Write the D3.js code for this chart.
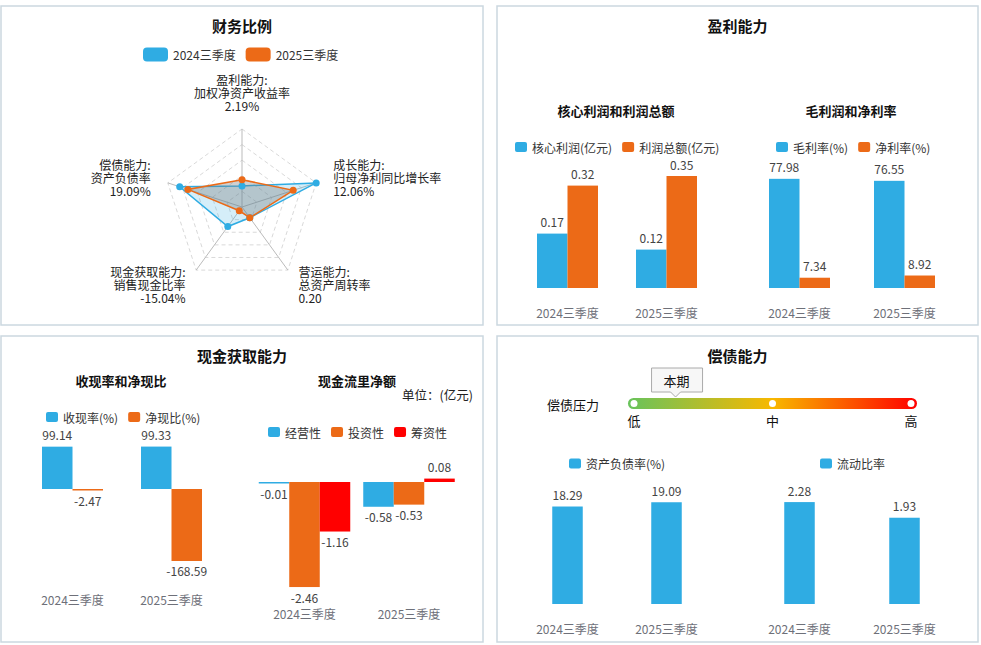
<!DOCTYPE html>
<html lang="zh">
<head>
<meta charset="UTF-8">
<title>财务分析</title>
<script src="https://d3js.org/d3.v7.min.js"></script>
<style>
  body { margin: 0; background: #fff; }
  svg { font-family: "Noto Sans CJK SC", "Microsoft YaHei", sans-serif; }
  .panel { fill: #fff; stroke: #cbd8e0; stroke-width: 1.5; }
  .title { font-size: 15px; font-weight: bold; fill: #111; }
  .sub { font-size: 13px; font-weight: bold; fill: #111; }
  .legend text { font-size: 12px; fill: #333; }
  .val { font-size: 12px; fill: #444; }
  .cat { font-size: 12px; fill: #6e7079; }
  .rlabel { font-size: 12px; fill: #222; }
</style>
</head>
<body>
<svg id="chart" width="981" height="645"></svg>
<script>
// ---- 数据 ----
var quarters = ["2024三季度", "2025三季度"];

// 财务比例 雷达（得分，0-100）
var radarNames   = ["盈利能力:", "成长能力:", "营运能力:", "现金获取能力:", "偿债能力:"];
var radarMetrics = ["加权净资产收益率", "归母净利同比增长率", "总资产周转率", "销售现金比率", "资产负债率"];
var radarValues  = ["2.19%", "12.06%", "0.20", "-15.04%", "19.09%"];
var radar2024 = [27, 100, 17, 31, 84];
var radar2025 = [35, 69, 17, 6, 73];

// 盈利能力
var profitSeries = ["核心利润(亿元)", "利润总额(亿元)"];
var coreProfit   = [0.17, 0.12];
var totalProfit  = [0.32, 0.35];
var marginSeries = ["毛利率(%)", "净利率(%)"];
var grossMargin  = [77.98, 76.55];
var netMargin    = [7.34, 8.92];

// 现金获取能力
var cashSeries    = ["收现率(%)", "净现比(%)"];
var cashRate      = [99.14, 99.33];
var netCashRatio  = [-2.47, -168.59];
var flowSeries    = ["经营性", "投资性", "筹资性"];
var flowOperating = [-0.01, -0.58];
var flowInvesting = [-2.46, -0.53];
var flowFinancing = [-1.16, 0.08];

// 偿债能力
var gaugeLevels  = ["低", "中", "高"];
var gaugeCurrent = 0.15;
var debtRatio    = [18.29, 19.09];
var currentRatio = [2.28, 1.93];

var BLUE = "#2FACE3", ORANGE = "#EC6A17", RED = "#FF0000";

var svg = d3.select("#chart");

// 面板
var panels = [
  { x: 1, y: 6, w: 482, h: 319, t: "财务比例" },
  { x: 497, y: 6, w: 481, h: 319, t: "盈利能力" },
  { x: 1, y: 336, w: 482, h: 306, t: "现金获取能力" },
  { x: 497, y: 336, w: 481, h: 306, t: "偿债能力" }
];
panels.forEach(function(p) {
  svg.append("rect").attr("class", "panel")
     .attr("x", p.x).attr("y", p.y).attr("width", p.w).attr("height", p.h);
  svg.append("text").attr("class", "title")
     .attr("x", p.x + p.w / 2).attr("y", p.y + 19)
     .attr("text-anchor", "middle").attr("dominant-baseline", "central")
     .text(p.t);
});

function subTitle(x, y, t, anchor) {
  svg.append("text").attr("class", "sub")
     .attr("x", x).attr("y", y)
     .attr("text-anchor", anchor || "middle").attr("dominant-baseline", "central")
     .text(t);
}

// 图例：按顺序排列
function legend(x, y, names, colors, opt) {
  opt = opt || {};
  var w = opt.w || 12, h = opt.h || 10, r = opt.r || 2, gap = opt.gap || 10;
  var g = svg.append("g").attr("class", "legend");
  var cx = x;
  names.forEach(function(n, i) {
    g.append("rect").attr("x", cx).attr("y", y - h / 2)
     .attr("width", w).attr("height", h).attr("rx", r).attr("fill", colors[i]);
    var t = g.append("text").attr("x", cx + w + 5).attr("y", y)
     .attr("dominant-baseline", "central").text(n);
    cx = cx + w + 5 + t.node().getComputedTextLength() + gap;
  });
}

// 分组柱状图
function groupedBars(opt) {
  var step = opt.centers[1] - opt.centers[0];
  var x0 = d3.scaleBand().domain(quarters)
             .range([opt.centers[0] - step / 2, opt.centers[1] + step / 2]);
  var n = opt.series.length, bw = 30.5;
  var x1 = d3.scaleBand().domain(d3.range(n)).range([-n * bw / 2, n * bw / 2]);
  var y = opt.y;
  var g = svg.append("g");
  quarters.forEach(function(q, qi) {
    var c = x0(q) + x0.bandwidth() / 2;
    opt.series.forEach(function(s, si) {
      var v = s[qi];
      var y0 = y(0), y1 = y(v);
      var top = Math.min(y0, y1), hgt = Math.max(1.5, Math.abs(y1 - y0));
      g.append("rect").attr("x", c + x1(si)).attr("y", top)
       .attr("width", x1.bandwidth()).attr("height", hgt)
       .attr("fill", opt.colors[si]);
      g.append("text").attr("class", "val")
       .attr("x", c + x1(si) + x1.bandwidth() / 2)
       .attr("y", v >= 0 ? y1 - 12 : y0 + hgt + 10)
       .attr("text-anchor", "middle").attr("dominant-baseline", "central")
       .text(v.toFixed(2));
    });
    g.append("text").attr("class", "cat")
     .attr("x", c).attr("y", opt.catY)
     .attr("text-anchor", "middle").attr("dominant-baseline", "central")
     .text(q);
  });
}

// ---- 财务比例 雷达 ----
legend(143, 54.5, quarters, [BLUE, ORANGE], { w: 25, h: 14, r: 4, gap: 10 });

var rc = { x: 242, y: 207 }, R = 78;
var rScale = d3.scaleLinear().domain([0, 100]).range([0, R]);
var angle = function(i) { return -Math.PI / 2 + i * 2 * Math.PI / radarNames.length; };
var pt = function(i, v) {
  return [rc.x + rScale(v) * Math.cos(angle(i)), rc.y + rScale(v) * Math.sin(angle(i))];
};
var rg = svg.append("g");
d3.range(1, 6).forEach(function(k) {
  rg.append("polygon")
    .attr("points", radarNames.map(function(d, i) { return pt(i, k * 20).join(","); }).join(" "))
    .attr("fill", "none").attr("stroke", "#d9d9d9").attr("stroke-dasharray", "4,3");
});
radarNames.forEach(function(d, i) {
  var p = pt(i, 100);
  rg.append("line").attr("x1", rc.x).attr("y1", rc.y).attr("x2", p[0]).attr("y2", p[1])
    .attr("stroke", "#bbb");
});
[[radar2024, BLUE, "rgba(47,172,227,0.2)"], [radar2025, ORANGE, "rgba(120,120,120,0.35)"]].forEach(function(s) {
  rg.append("polygon")
    .attr("points", s[0].map(function(v, i) { return pt(i, v).join(","); }).join(" "))
    .attr("fill", s[2]).attr("stroke", s[1]).attr("stroke-width", 1.5);
});
[[radar2024, BLUE], [radar2025, ORANGE]].forEach(function(s) {
  s[0].forEach(function(v, i) {
    var p = pt(i, v);
    rg.append("circle").attr("cx", p[0]).attr("cy", p[1]).attr("r", 3.5).attr("fill", s[1]);
  });
});
var lh = 13;
radarNames.forEach(function(d, i) {
  var a = angle(i), lr = R + 18;
  var lx = rc.x + lr * Math.cos(a), ly = rc.y + lr * Math.sin(a);
  var c = Math.cos(a), anchor = Math.abs(c) < 0.1 ? "middle" : (c > 0 ? "start" : "end");
  var lines = [d, radarMetrics[i], radarValues[i]];
  var firstY = Math.sin(a) < -0.9 ? ly - 6 - 2 * lh : ly - lh;
  lines.forEach(function(t, j) {
    rg.append("text").attr("class", "rlabel")
      .attr("x", lx).attr("y", firstY + j * lh)
      .attr("text-anchor", anchor).attr("dominant-baseline", "central").text(t);
  });
});

// ---- 盈利能力 ----
subTitle(616, 110, "核心利润和利润总额");
subTitle(851, 110, "毛利润和净利率");
legend(515, 147, profitSeries, [BLUE, ORANGE]);
legend(776, 147, marginSeries, [BLUE, ORANGE]);
groupedBars({
  series: [coreProfit, totalProfit], colors: [BLUE, ORANGE],
  centers: [567.5, 666.5], catY: 312,
  y: d3.scaleLinear().domain([0, 0.4]).range([288, 160])
});
groupedBars({
  series: [grossMargin, netMargin], colors: [BLUE, ORANGE],
  centers: [799.5, 904.5], catY: 312,
  y: d3.scaleLinear().domain([0, 100]).range([288, 148])
});

// ---- 现金获取能力 ----
subTitle(121, 380, "收现率和净现比");
subTitle(357, 380, "现金流里净额");
svg.append("text").attr("class", "rlabel").attr("x", 473).attr("y", 394)
   .attr("text-anchor", "end").attr("dominant-baseline", "central")
   .style("font-size", "12.5px").text("单位：(亿元)");
legend(46, 417, cashSeries, [BLUE, ORANGE]);
legend(268, 432, flowSeries, [BLUE, ORANGE, RED]);
groupedBars({
  series: [cashRate, netCashRatio], colors: [BLUE, ORANGE],
  centers: [72.5, 171.5], catY: 599,
  y: d3.scaleLinear().domain([-200, 100]).range([489 + 200 * 0.427, 489 - 100 * 0.427])
});
groupedBars({
  series: [flowOperating, flowInvesting, flowFinancing], colors: [BLUE, ORANGE, RED],
  centers: [304.5, 409], catY: 613,
  y: d3.scaleLinear().domain([-3, 1]).range([482 + 3 * 42.7, 482 - 42.7])
});

// ---- 偿债能力 ----
svg.append("text").attr("x", 547).attr("y", 404).attr("dominant-baseline", "central")
   .style("font-size", "13px").attr("fill", "#111").text("偿债压力");
var gx = d3.scaleLinear().domain([0, 1]).range([634, 911]);
var gp = d3.scalePoint().domain(gaugeLevels).range([634, 911]);
var grad = svg.append("defs").append("linearGradient").attr("id", "gauge");
[["0%", "#68C35C"], ["50%", "#F8B800"], ["100%", "#FF0000"]].forEach(function(s) {
  grad.append("stop").attr("offset", s[0]).attr("stop-color", s[1]);
});
svg.append("rect").attr("x", gx(0) - 6).attr("y", 398).attr("width", gx(1) - gx(0) + 12)
   .attr("height", 11).attr("rx", 5.5).attr("fill", "url(#gauge)");
gaugeLevels.forEach(function(l) {
  svg.append("circle").attr("cx", gp(l)).attr("cy", 403.5).attr("r", 3.5).attr("fill", "#fff");
  svg.append("text").attr("x", gp(l)).attr("y", 420)
     .attr("text-anchor", "middle").attr("dominant-baseline", "central")
     .style("font-size", "13px").attr("fill", "#111").text(l);
});
var tx = gx(gaugeCurrent);
svg.append("path")
   .attr("d", "M" + (tx - 24) + ",368 h51 v24 h-" + 22 + " l-5,5 l-5,-5 h-19 z")
   .attr("fill", "#f7f7f7").attr("stroke", "#aaa").attr("stroke-linejoin", "round");
svg.append("text").attr("x", tx + 1).attr("y", 380)
   .attr("text-anchor", "middle").attr("dominant-baseline", "central")
   .style("font-size", "13px").attr("fill", "#111").text("本期");

legend(569, 463.5, ["资产负债率(%)"], [BLUE]);
legend(820, 463.5, ["流动比率"], [BLUE]);
groupedBars({
  series: [debtRatio], colors: [BLUE],
  centers: [567.5, 666.5], catY: 628,
  y: d3.scaleLinear().domain([0, 25]).range([604, 604 - 25 * 5.33])
});
groupedBars({
  series: [currentRatio], colors: [BLUE],
  centers: [799.5, 904.5], catY: 628,
  y: d3.scaleLinear().domain([0, 2.5]).range([604, 604 - 2.5 * 44.7])
});
</script>
</body>
</html>
